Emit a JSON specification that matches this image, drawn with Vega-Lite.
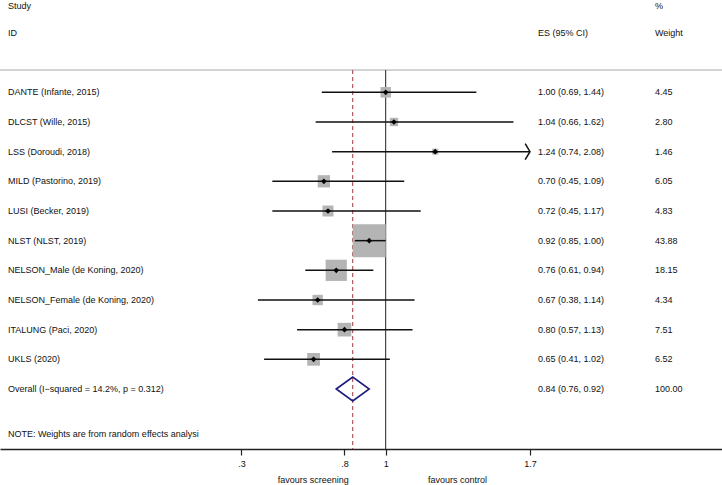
{
  "$schema": "https://vega.github.io/schema/vega-lite/v6.json",
  "autosize": {"type": "none"},
  "padding": {"left": 0, "top": 0, "right": 0, "bottom": 36},
  "width": 722,
  "height": 449,
  "background": "white",
  "config": {
    "view": {"stroke": null},
    "text": {"font": "Liberation Sans", "fontSize": 9, "color": "#111111", "baseline": "middle"},
    "axis": {"labelFont": "Liberation Sans"}
  },
  "datasets": {
    "studies": [
      {"row": 1, "study": "DANTE (Infante, 2015)", "es": 1.00, "lo": 0.69, "hi": 1.44, "weight": 4.45, "ci": "1.00 (0.69, 1.44)", "wt": "4.45", "kind": "study"},
      {"row": 2, "study": "DLCST (Wille, 2015)", "es": 1.04, "lo": 0.66, "hi": 1.62, "weight": 2.80, "ci": "1.04 (0.66, 1.62)", "wt": "2.80", "kind": "study"},
      {"row": 3, "study": "LSS (Doroudi, 2018)", "es": 1.24, "lo": 0.74, "hi": 2.08, "weight": 1.46, "ci": "1.24 (0.74, 2.08)", "wt": "1.46", "kind": "study"},
      {"row": 4, "study": "MILD (Pastorino, 2019)", "es": 0.70, "lo": 0.45, "hi": 1.09, "weight": 6.05, "ci": "0.70 (0.45, 1.09)", "wt": "6.05", "kind": "study"},
      {"row": 5, "study": "LUSI (Becker, 2019)", "es": 0.72, "lo": 0.45, "hi": 1.17, "weight": 4.83, "ci": "0.72 (0.45, 1.17)", "wt": "4.83", "kind": "study"},
      {"row": 6, "study": "NLST (NLST, 2019)", "es": 0.92, "lo": 0.85, "hi": 1.00, "weight": 43.88, "ci": "0.92 (0.85, 1.00)", "wt": "43.88", "kind": "study"},
      {"row": 7, "study": "NELSON_Male (de Koning, 2020)", "es": 0.76, "lo": 0.61, "hi": 0.94, "weight": 18.15, "ci": "0.76 (0.61, 0.94)", "wt": "18.15", "kind": "study"},
      {"row": 8, "study": "NELSON_Female (de Koning, 2020)", "es": 0.67, "lo": 0.38, "hi": 1.14, "weight": 4.34, "ci": "0.67 (0.38, 1.14)", "wt": "4.34", "kind": "study"},
      {"row": 9, "study": "ITALUNG (Paci, 2020)", "es": 0.80, "lo": 0.57, "hi": 1.13, "weight": 7.51, "ci": "0.80 (0.57, 1.13)", "wt": "7.51", "kind": "study"},
      {"row": 10, "study": "UKLS (2020)", "es": 0.65, "lo": 0.41, "hi": 1.02, "weight": 6.52, "ci": "0.65 (0.41, 1.02)", "wt": "6.52", "kind": "study"},
      {"row": 11, "study": "Overall  (I\u2212squared = 14.2%, p = 0.312)", "es": 0.84, "lo": 0.76, "hi": 0.92, "weight": 100.00, "ci": "0.84 (0.76, 0.92)", "wt": "100.00", "kind": "overall"}
    ],
    "labels": [
      {"row": -1.9, "col": "left", "label": "Study"},
      {"row": -1, "col": "left", "label": "ID"},
      {"row": -1, "col": "es", "label": "ES (95% CI)"},
      {"row": -1.9, "col": "wt", "label": "%"},
      {"row": -1, "col": "wt", "label": "Weight"},
      {"row": 12.5, "col": "left", "label": "NOTE: Weights are from random effects analysi"}
    ],
    "favours": [
      {"pos": 0.648, "label": "favours screening"},
      {"pos": 1.348, "label": "favours control"}
    ]
  },
  "encoding": {
    "y": {"type": "quantitative", "scale": {"domain": [-2.111, 13.022], "reverse": true, "nice": false, "zero": false}, "axis": null}
  },
  "layer": [
    {
      "data": {"values": [{}]},
      "mark": {"type": "rule", "color": "#c4c4c4", "strokeWidth": 1.5},
      "encoding": {"y": {"datum": 0.25, "type": "quantitative"}}
    },
    {
      "data": {"values": [{}]},
      "mark": {"type": "rule", "color": "#222222", "strokeWidth": 1},
      "encoding": {
        "x": {"datum": 1, "type": "quantitative",
          "scale": {"domain": [-0.8714, 2.6317], "nice": false, "zero": false},
          "axis": {"values": [0.3, 0.8, 1, 1.7], "grid": false, "title": null, "domainColor": "#222222", "domainWidth": 1.5, "tickColor": "#222222", "tickWidth": 1.2, "tickSize": 6, "labelPadding": 4, "labelFontSize": 9, "labelColor": "#111111", "labelExpr": "datum.value == 1 ? '1' : (datum.value < 1 ? replace(format(datum.value, '.1f'), '0.', '.') : format(datum.value, '.1f'))"}},
        "y": {"datum": 0.25, "type": "quantitative"},
        "y2": {"datum": 13.022}
      }
    },
    {
      "data": {"name": "studies"},
      "transform": [{"filter": "datum.kind == 'overall'"}],
      "mark": {"type": "rule", "color": "#a0343c", "strokeWidth": 1, "strokeDash": [4, 3]},
      "encoding": {
        "x": {"field": "es", "type": "quantitative"},
        "y": {"datum": 0.25, "type": "quantitative"},
        "y2": {"datum": 13.022}
      }
    },
    {
      "data": {"name": "studies"},
      "transform": [{"filter": "datum.kind == 'study'"}],
      "mark": {"type": "square", "color": "#b4b4b4", "opacity": 1, "filled": true},
      "encoding": {
        "x": {"field": "es", "type": "quantitative"},
        "y": {"field": "row", "type": "quantitative"},
        "size": {"field": "weight", "type": "quantitative", "scale": {"domain": [0, 43.88], "range": [0, 1089]}, "legend": null}
      }
    },
    {
      "data": {"name": "studies"},
      "transform": [{"filter": "datum.kind == 'study' && datum.hi <= 1.7"}],
      "mark": {"type": "rule", "color": "#111111", "strokeWidth": 1.5},
      "encoding": {
        "x": {"field": "lo", "type": "quantitative"},
        "x2": {"field": "hi"},
        "y": {"field": "row", "type": "quantitative"}
      }
    },
    {
      "data": {"name": "studies"},
      "transform": [{"filter": "datum.kind == 'study' && datum.hi > 1.7"}],
      "mark": {"type": "rule", "color": "#111111", "strokeWidth": 1.5},
      "encoding": {
        "x": {"field": "lo", "type": "quantitative"},
        "x2": {"datum": 1.7},
        "y": {"field": "row", "type": "quantitative"}
      }
    },
    {
      "data": {"name": "studies"},
      "transform": [{"filter": "datum.kind == 'study' && datum.hi > 1.7"}],
      "mark": {"type": "point", "shape": "M -0.6 -1 L 0 0 L -0.6 1", "filled": false, "stroke": "#111111", "strokeWidth": 1.5, "size": 256, "opacity": 1},
      "encoding": {
        "x": {"datum": 1.7, "type": "quantitative"},
        "y": {"field": "row", "type": "quantitative"}
      }
    },
    {
      "data": {"name": "studies"},
      "transform": [{"filter": "datum.kind == 'study'"}],
      "mark": {"type": "point", "shape": "diamond", "filled": true, "color": "#000000", "size": 32, "opacity": 1},
      "encoding": {
        "x": {"field": "es", "type": "quantitative"},
        "y": {"field": "row", "type": "quantitative"}
      }
    },
    {
      "data": {"name": "studies"},
      "transform": [{"filter": "datum.kind == 'overall'"}],
      "mark": {"type": "point", "shape": "M -1 0 L 0 -0.727 L 1 0 L 0 0.727 Z", "filled": false, "stroke": "#1c1c7c", "strokeWidth": 1.6, "size": 1089, "opacity": 1},
      "encoding": {
        "x": {"field": "es", "type": "quantitative"},
        "y": {"field": "row", "type": "quantitative"}
      }
    },
    {
      "data": {"name": "studies"},
      "mark": {"type": "text", "align": "left"},
      "encoding": {
        "x": {"datum": -0.8326, "type": "quantitative"},
        "y": {"field": "row", "type": "quantitative"},
        "text": {"field": "study"}
      }
    },
    {
      "data": {"name": "studies"},
      "mark": {"type": "text", "align": "left"},
      "encoding": {
        "x": {"datum": 1.739, "type": "quantitative"},
        "y": {"field": "row", "type": "quantitative"},
        "text": {"field": "ci"}
      }
    },
    {
      "data": {"name": "studies"},
      "mark": {"type": "text", "align": "left"},
      "encoding": {
        "x": {"datum": 2.3067, "type": "quantitative"},
        "y": {"field": "row", "type": "quantitative"},
        "text": {"field": "wt"}
      }
    },
    {
      "data": {"name": "labels"},
      "transform": [{"filter": "datum.col == 'left'"}],
      "mark": {"type": "text", "align": "left"},
      "encoding": {
        "x": {"datum": -0.8326, "type": "quantitative"},
        "y": {"field": "row", "type": "quantitative"},
        "text": {"field": "label"}
      }
    },
    {
      "data": {"name": "labels"},
      "transform": [{"filter": "datum.col == 'es'"}],
      "mark": {"type": "text", "align": "left"},
      "encoding": {
        "x": {"datum": 1.739, "type": "quantitative"},
        "y": {"field": "row", "type": "quantitative"},
        "text": {"field": "label"}
      }
    },
    {
      "data": {"name": "labels"},
      "transform": [{"filter": "datum.col == 'wt'"}],
      "mark": {"type": "text", "align": "left"},
      "encoding": {
        "x": {"datum": 2.3067, "type": "quantitative"},
        "y": {"field": "row", "type": "quantitative"},
        "text": {"field": "label"}
      }
    },
    {
      "data": {"name": "favours"},
      "mark": {"type": "text", "align": "center"},
      "encoding": {
        "x": {"field": "pos", "type": "quantitative"},
        "y": {"datum": 14.05, "type": "quantitative"},
        "text": {"field": "label"}
      }
    }
  ]
}
